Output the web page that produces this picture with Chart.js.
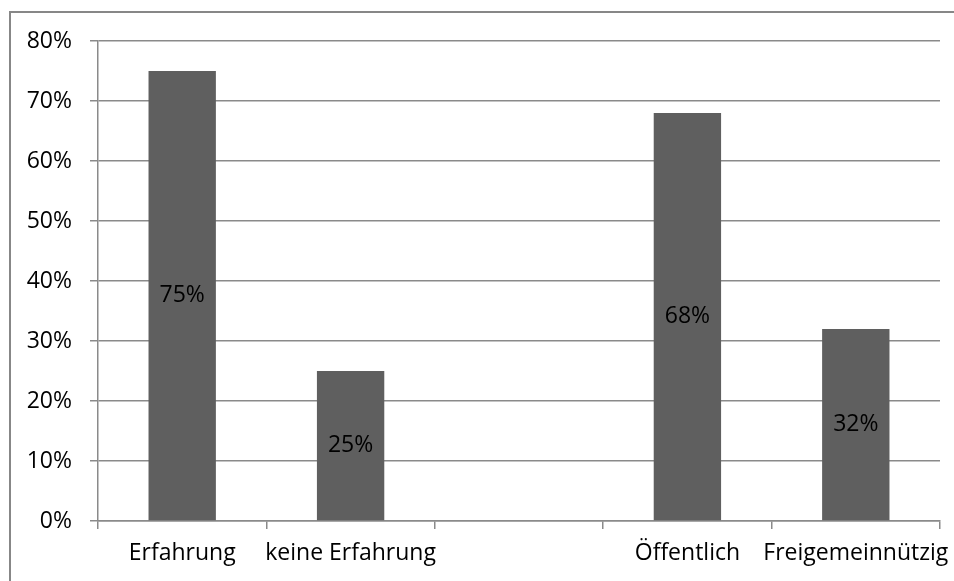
<!DOCTYPE html>
<html>
<head>
<meta charset="utf-8">
<script src="https://cdn.jsdelivr.net/npm/chart.js@4/dist/chart.umd.min.js"></script>
<style>
  html, body { margin: 0; padding: 0; background: #fff; overflow: hidden; }
  #wrap { width: 954px; height: 581px; position: relative; }
</style>
</head>
<body>
<div id="wrap"><canvas id="barChart" width="954" height="581"></canvas></div>
<script>
// chart data
const categories = ["Erfahrung", "keine Erfahrung", "", "Öffentlich", "Freigemeinnützig"];
const shares = [75, 25, null, 68, 32];
const yTicks = [0, 10, 20, 30, 40, 50, 60, 70, 80];

const gridGray = "#8a8a8a";
const fontFamily = "'Open Sans', 'Noto Sans', sans-serif";
const fontSize = 23;

// outer frame like the office chart border
const framePlugin = {
    id: "frame",
    beforeDraw(chart) {
        let c = chart.ctx;
        c.save();
        c.fillStyle = "#fff";
        c.fillRect(0, 0, chart.width, chart.height);
        c.strokeStyle = "#878787";
        c.lineWidth = 2;
        c.strokeRect(10, 12, chart.width + 20, chart.height + 20);
        c.restore();
    }
};

// value labels centred in each bar
const barLabels = {
    id: "barLabels",
    afterDatasetsDraw(chart) {
        let c = chart.ctx;
        let meta = chart.getDatasetMeta(0);
        c.save();
        c.font = fontSize + "px " + fontFamily;
        c.fillStyle = "#000";
        c.textAlign = "center";
        c.textBaseline = "middle";
        meta.data.forEach((bar, i) => {
            if (shares[i] == null) return;
            let mid = (bar.y + bar.base) / 2;
            c.fillText(shares[i] + "%", bar.x, mid);
        });
        c.restore();
    }
};

let ctx = document.getElementById("barChart").getContext("2d");
let chart = new Chart(ctx, {
    type: "bar",
    data: {
        labels: categories,
        datasets: [{
            data: shares,
            backgroundColor: "#5f5f5f",
            borderWidth: 0,
            barPercentage: 0.4,
            categoryPercentage: 1.0
        }]
    },
    options: {
        responsive: false,
        animation: false,
        layout: { padding: { top: 41, right: 14, left: 0, bottom: 0 } },
        plugins: { legend: { display: false }, tooltip: { enabled: false } },
        scales: {
            x: {
                grid: { display: true, drawOnChartArea: false, drawTicks: true, tickLength: 8, offset: true, color: gridGray, lineWidth: 1.5 },
                border: { color: gridGray, width: 1.5 },
                ticks: { color: "#000", font: { family: fontFamily, size: fontSize }, maxRotation: 0, autoSkip: false, padding: 11 },
                afterFit(scale) {
                    scale.height = 60;
                    scale.paddingLeft = 0;
                    scale.paddingRight = 0;
                }
            },
            y: {
                min: 0,
                max: 80,
                afterBuildTicks(scale) { scale.ticks = yTicks.map(v => ({ value: v })); },
                grid: { color: gridGray, lineWidth: 1.5, drawTicks: true, tickLength: 8 },
                border: { color: gridGray, width: 1.5 },
                ticks: {
                    color: "#000",
                    font: { family: fontFamily, size: fontSize },
                    padding: 18,
                    callback: v => v + "%"
                },
                afterFit(scale) { scale.width = 98; }
            }
        }
    },
    plugins: [framePlugin, barLabels]
});
</script>
</body>
</html>
